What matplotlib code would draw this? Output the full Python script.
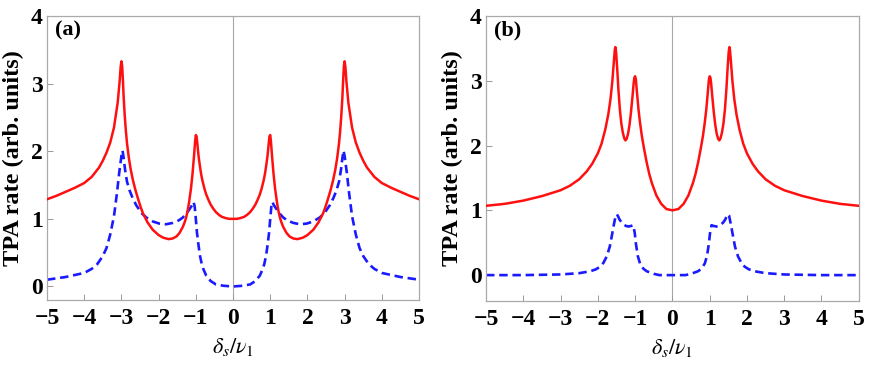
import matplotlib
matplotlib.use("Agg")
import matplotlib.pyplot as plt

# === DATA ===
# panel (a), solid red curve
xa_red = [-5.0, -4.75, -4.5, -4.25, -4.0, -3.8, -3.6, -3.5, -3.4, -3.3, -3.2, -3.1, -3.05,
          -3.02, -3.0, -2.98, -2.96, -2.94, -2.91, -2.88, -2.85, -2.80, -2.75, -2.69, -2.62,
          -2.55, -2.48, -2.42, -2.3, -2.16, -2.0, -1.87, -1.73, -1.62, -1.52, -1.44, -1.35,
          -1.3, -1.26, -1.22, -1.18, -1.13, -1.09, -1.05, -1.02, -1.0, -0.98, -0.96, -0.94,
          -0.92, -0.89, -0.86, -0.82, -0.77, -0.72, -0.66, -0.6, -0.53, -0.46, -0.38, -0.3,
          -0.19, -0.1, 0.0,
          0.1, 0.19, 0.3, 0.38, 0.46, 0.53, 0.6, 0.66, 0.72, 0.77, 0.82, 0.86, 0.89, 0.92,
          0.94, 0.96, 0.98, 1.0, 1.02, 1.05, 1.09, 1.13, 1.18, 1.22, 1.26, 1.3, 1.35, 1.44,
          1.52, 1.62, 1.73, 1.87, 2.0, 2.16, 2.3, 2.42, 2.48, 2.55, 2.62, 2.69, 2.75, 2.80,
          2.85, 2.88, 2.91, 2.94, 2.96, 2.98, 3.0, 3.02, 3.05, 3.1, 3.2, 3.3, 3.4, 3.5, 3.6,
          3.8, 4.0, 4.25, 4.5, 4.75, 5.0]
ya_red = [1.29, 1.34, 1.40, 1.46, 1.53, 1.62, 1.76, 1.86, 1.98, 2.13, 2.35, 2.72, 3.02,
          3.25, 3.33, 3.26, 3.05, 2.80, 2.52, 2.30, 2.12, 1.90, 1.73, 1.57, 1.42,
          1.29, 1.17, 1.08, 0.95, 0.84, 0.76, 0.72, 0.70, 0.71, 0.74, 0.79, 0.88,
          0.95, 1.02, 1.12, 1.25, 1.45, 1.66, 1.92, 2.14, 2.24, 2.22, 2.12, 2.00,
          1.90, 1.78, 1.67, 1.56, 1.45, 1.36, 1.28, 1.21, 1.15, 1.10, 1.06, 1.03,
          1.01, 1.00, 1.00,
          1.00, 1.01, 1.03, 1.06, 1.10, 1.15, 1.21, 1.28, 1.36, 1.45, 1.56, 1.67, 1.78, 1.90,
          2.00, 2.12, 2.22, 2.24, 2.14, 1.92, 1.66, 1.45, 1.25, 1.12, 1.02, 0.95, 0.88, 0.79,
          0.74, 0.71, 0.70, 0.72, 0.76, 0.84, 0.95, 1.08, 1.17, 1.29, 1.42, 1.57, 1.73, 1.90,
          2.12, 2.30, 2.52, 2.80, 3.05, 3.26, 3.33, 3.25, 3.02, 2.72, 2.35, 2.13, 1.98, 1.86, 1.76,
          1.62, 1.53, 1.46, 1.40, 1.34, 1.29]

# panel (a), dashed blue curve
xa_blue = [-5.0, -4.5, -4.25, -4.0, -3.8, -3.65, -3.5, -3.4, -3.3, -3.2, -3.12, -3.06, -3.0,
           -2.97, -2.94, -2.9, -2.85, -2.78, -2.7, -2.6, -2.45, -2.33, -2.15, -1.98, -1.8,
           -1.62, -1.45, -1.35, -1.25, -1.15, -1.09, -1.06, -1.03, -1.0, -0.97, -0.93, -0.89,
           -0.84, -0.8, -0.72, -0.6, -0.46, -0.25, 0.0,
           0.25, 0.46, 0.6, 0.72, 0.8, 0.84, 0.89, 0.93, 0.97, 1.0, 1.03, 1.06, 1.09, 1.15,
           1.25, 1.35, 1.45, 1.62, 1.8, 1.98, 2.15, 2.33, 2.45, 2.6, 2.7, 2.78, 2.85, 2.9,
           2.94, 2.97, 3.0, 3.06, 3.12, 3.2, 3.3, 3.4, 3.5, 3.65, 3.8, 4.0, 4.25, 4.5, 5.0]
ya_blue = [0.10, 0.14, 0.17, 0.20, 0.26, 0.33, 0.45, 0.57, 0.77, 1.04, 1.38, 1.68, 1.93,
           2.01, 1.90, 1.72, 1.55, 1.42, 1.31, 1.20, 1.08, 1.02, 0.96, 0.93, 0.92,
           0.94, 0.98, 1.02, 1.08, 1.16, 1.21, 1.25, 1.18, 1.00, 0.80, 0.62, 0.46,
           0.33, 0.26, 0.16, 0.08, 0.03, 0.01, 0.00,
           0.01, 0.03, 0.08, 0.16, 0.26, 0.33, 0.46, 0.62, 0.80, 1.00, 1.18, 1.25, 1.21, 1.16,
           1.08, 1.02, 0.98, 0.94, 0.92, 0.93, 0.96, 1.02, 1.08, 1.20, 1.31, 1.42, 1.55, 1.72,
           1.90, 2.01, 1.93, 1.68, 1.38, 1.04, 0.77, 0.57, 0.45, 0.33, 0.26, 0.20, 0.17, 0.14, 0.10]

# panel (b), solid red curve
xb_red = [-5.0, -4.5, -4.0, -3.5, -3.0, -2.75, -2.5, -2.3, -2.15, -2.0, -1.9, -1.8, -1.72,
          -1.66, -1.61, -1.57, -1.545, -1.53, -1.51, -1.48, -1.45, -1.41, -1.37, -1.33, -1.29,
          -1.26, -1.23, -1.19, -1.15, -1.11, -1.07, -1.04, -1.02, -1.0, -0.98, -0.95, -0.91,
          -0.87, -0.82, -0.76, -0.69, -0.62, -0.55, -0.43, -0.3, -0.16, 0.0,
          0.16, 0.3, 0.43, 0.55, 0.62, 0.69, 0.76, 0.82, 0.87, 0.91, 0.95, 0.98, 1.0, 1.02,
          1.04, 1.07, 1.11, 1.15, 1.19, 1.23, 1.26, 1.29, 1.33, 1.37, 1.41, 1.45, 1.48, 1.51,
          1.53, 1.545, 1.57, 1.61, 1.66, 1.72, 1.8, 1.9, 2.0, 2.15, 2.3, 2.5, 2.75, 3.0, 3.5,
          4.0, 4.5, 5.0]
yb_red = [1.07, 1.10, 1.15, 1.22, 1.31, 1.38, 1.48, 1.60, 1.72, 1.88, 2.03, 2.25, 2.48,
          2.72, 3.00, 3.30, 3.48, 3.52, 3.44, 3.18, 2.88, 2.56, 2.34, 2.20, 2.11,
          2.08, 2.10, 2.18, 2.32, 2.52, 2.76, 2.96, 3.05, 3.07, 3.02, 2.82, 2.56,
          2.36, 2.15, 1.95, 1.74, 1.56, 1.42, 1.23, 1.10, 1.02, 1.00,
          1.02, 1.10, 1.23, 1.42, 1.56, 1.74, 1.95, 2.15, 2.36, 2.56, 2.82, 3.02, 3.07, 3.05,
          2.96, 2.76, 2.52, 2.32, 2.18, 2.10, 2.08, 2.11, 2.20, 2.34, 2.56, 2.88, 3.18, 3.44,
          3.52, 3.48, 3.30, 3.00, 2.72, 2.48, 2.25, 2.03, 1.88, 1.72, 1.60, 1.48, 1.38, 1.31, 1.22,
          1.15, 1.10, 1.07]

# panel (b), dashed blue curve
xb_blue = [-5.0, -4.0, -3.0, -2.5, -2.2, -2.05, -1.94, -1.85, -1.76, -1.68, -1.63, -1.57,
           -1.52, -1.49, -1.45, -1.42, -1.36, -1.3, -1.25, -1.18, -1.1, -1.05, -1.01, -0.98,
           -0.93, -0.87, -0.78, -0.69, -0.5, -0.35, 0.0,
           0.35, 0.5, 0.69, 0.78, 0.87, 0.93, 0.98, 1.01, 1.05, 1.1, 1.18, 1.25, 1.3, 1.36,
           1.42, 1.45, 1.49, 1.52, 1.57, 1.63, 1.68, 1.76, 1.85, 1.94, 2.05, 2.2, 2.5, 3.0,
           4.0, 5.0]
yb_blue = [0.00, 0.00, 0.01, 0.03, 0.06, 0.09, 0.13, 0.19, 0.29, 0.44, 0.59, 0.78,
           0.92, 0.94, 0.90, 0.86, 0.81, 0.78, 0.76, 0.75, 0.76, 0.77, 0.65, 0.49,
           0.30, 0.18, 0.10, 0.06, 0.02, 0.00, 0.00,
           0.00, 0.02, 0.06, 0.10, 0.18, 0.30, 0.49, 0.65, 0.77, 0.76, 0.75, 0.76, 0.78, 0.81,
           0.86, 0.90, 0.94, 0.92, 0.78, 0.59, 0.44, 0.29, 0.19, 0.13, 0.09, 0.06, 0.03, 0.01,
           0.00, 0.00]

x_ticks = [-5, -4, -3, -2, -1, 0, 1, 2, 3, 4, 5]
y_ticks = [0, 1, 2, 3, 4]

panels = [
    # (label, red x/y, blue x/y, ylim, axes rect)
    ("(a)", xa_red, ya_red, xa_blue, ya_blue, (-0.2, 4.0), [0.0541, 0.1848, 0.4281, 0.7717]),
    ("(b)", xb_red, yb_red, xb_blue, yb_blue, (-0.4, 4.0), [0.5593, 0.182, 0.4289, 0.7745]),
]

plt.rcParams['font.family'] = ['Liberation Serif', 'DejaVu Serif']
plt.rcParams['mathtext.fontset'] = 'stix'

fig = plt.figure(figsize=(8.69, 3.68), dpi=100)

for label, xr, yr, xb, yb, ylim, rect in panels:
    ax = fig.add_axes(rect)
    ax.axvline(0, color='#a8a8a8', lw=0.8, zorder=1)
    ax.plot(xr, yr, color='#ff1010', lw=1.8, zorder=3)
    ax.plot(xb, yb, color='#1a1aff', lw=1.9, dashes=(3.2, 1.8), zorder=2)

    ax.set_xlim(-5, 5)
    ax.set_ylim(*ylim)
    ax.set_xticks(x_ticks)
    ax.set_yticks(y_ticks)
    ax.set_xticklabels([str(t).replace('-', '\u2212') for t in x_ticks])
    ax.set_yticklabels([str(t) for t in y_ticks])
    ax.tick_params(direction='in', length=4, width=0.7, color='#999999',
                   labelsize=17, pad=6)
    ax.tick_params(axis='y', pad=3)
    for lab in ax.get_xticklabels() + ax.get_yticklabels():
        lab.set_fontweight('bold')
    for sp in ax.spines.values():
        sp.set_color('#aaaaaa')
        sp.set_linewidth(0.9)

    ax.set_ylabel('TPA rate (arb. units)', fontsize=17.5, fontweight='bold', labelpad=5)
    ax.set_xlabel(r'$\delta_s/\nu_1$', fontsize=16, labelpad=5)
    ax.text(0.022, 0.985, label, transform=ax.transAxes, ha='left', va='top',
            fontsize=16, fontweight='bold')

fig.savefig('out.png', dpi=100)
